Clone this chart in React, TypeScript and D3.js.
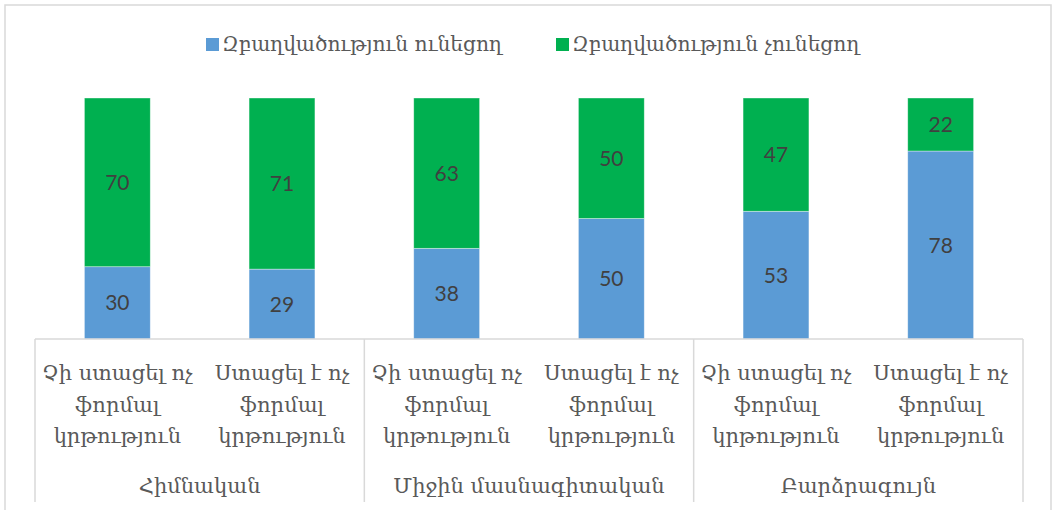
import React from "react";
import * as d3 from "d3";

const groups = ["Հիմնական", "Միջին մասնագիտական", "Բարձրագույն"];
const subLabels = [
  ["Չի ստացել ոչ", "ֆորմալ", "կրթություն"],
  ["Ստացել է ոչ", "ֆորմալ", "կրթություն"],
];
const categories = ["c0", "c1", "c2", "c3", "c4", "c5"];
const employed = [30, 29, 38, 50, 53, 78];
const notEmployed = [70, 71, 63, 50, 47, 22];
const seriesNames = ["Զբաղվածություն ունեցող", "Զբաղվածություն չունեցող"];
const colors = ["#5B9BD5", "#00B050"];

const W = 1054;
const H = 510;
const ARM = "'DejaVu Serif', serif";
const NUM = "Lato, 'Open Sans', sans-serif";

export default function App() {
  const x = d3.scaleBand<string>().domain(categories).range([35, 1023]).paddingInner(0.6).paddingOuter(0.3);
  const xg = d3.scaleBand<string>().domain(categories).range([35, 1023]);
  const y = d3.scaleLinear().domain([0, 1]).range([339, 98]);
  const rows = categories.map((c, i) => ({ c, a: employed[i], b: notEmployed[i] }));
  const stack = d3.stack<any>().keys(["a", "b"]).offset(d3.stackOffsetExpand)(rows);
  const groupW = (1023 - 35) / 3;

  return (
    <svg width={W} height={H} style={{ position: "absolute", left: 0, top: 0 }}>
      <rect x={5} y={5} width={1046} height={510} fill="#fff" stroke="#d9d9d9" strokeWidth={1.5} />
      {/* legend */}
      {seriesNames.map((s, i) => {
        const lx = i === 0 ? 206 : 556;
        return (
          <g key={s}>
            <rect x={lx} y={38} width={13} height={13} fill={colors[i]} />
            <text x={lx + 16} y={51} fontFamily={ARM} fontSize={20.2} fill="#595959">{s}</text>
          </g>
        );
      })}
      {/* bars */}
      {stack.map((layer, si) =>
        layer.map((d, i) => {
          const bx = x(categories[i])!;
          return (
            <g key={si + "-" + i}>
              <rect x={bx} y={y(d[1])} width={x.bandwidth()} height={y(d[0]) - y(d[1])} fill={colors[si]} stroke="#fff" strokeOpacity={0.5} strokeWidth={0.75} />
              <text x={bx + x.bandwidth() / 2} y={(y(d[0]) + y(d[1])) / 2 + 7.5} textAnchor="middle" fontFamily={NUM} fontSize={21} fill="#404040">
                {si === 0 ? employed[i] : notEmployed[i]}
              </text>
            </g>
          );
        })
      )}
      {/* axis */}
      <line x1={35} x2={1023} y1={339} y2={339} stroke="#d9d9d9" strokeWidth={1.5} />
      {[0, 1, 2, 3].map((k) => (
        <line key={k} x1={35 + k * groupW} x2={35 + k * groupW} y1={339} y2={502} stroke="#d9d9d9" strokeWidth={1.5} />
      ))}
      {categories.map((c, i) => (
        <text key={c} textAnchor="middle" fontFamily={ARM} fontSize={21} fill="#595959">
          {subLabels[i % 2].map((t, j) => (
            <tspan key={j} x={xg(c)! + xg.bandwidth() / 2} y={380 + j * 31.5}>{t}</tspan>
          ))}
        </text>
      ))}
      {groups.map((g, k) => (
        <text key={g} x={35 + (k + 0.5) * groupW} y={493} textAnchor="middle" fontFamily={ARM} fontSize={21} fill="#595959">{g}</text>
      ))}
    </svg>
  );
}
